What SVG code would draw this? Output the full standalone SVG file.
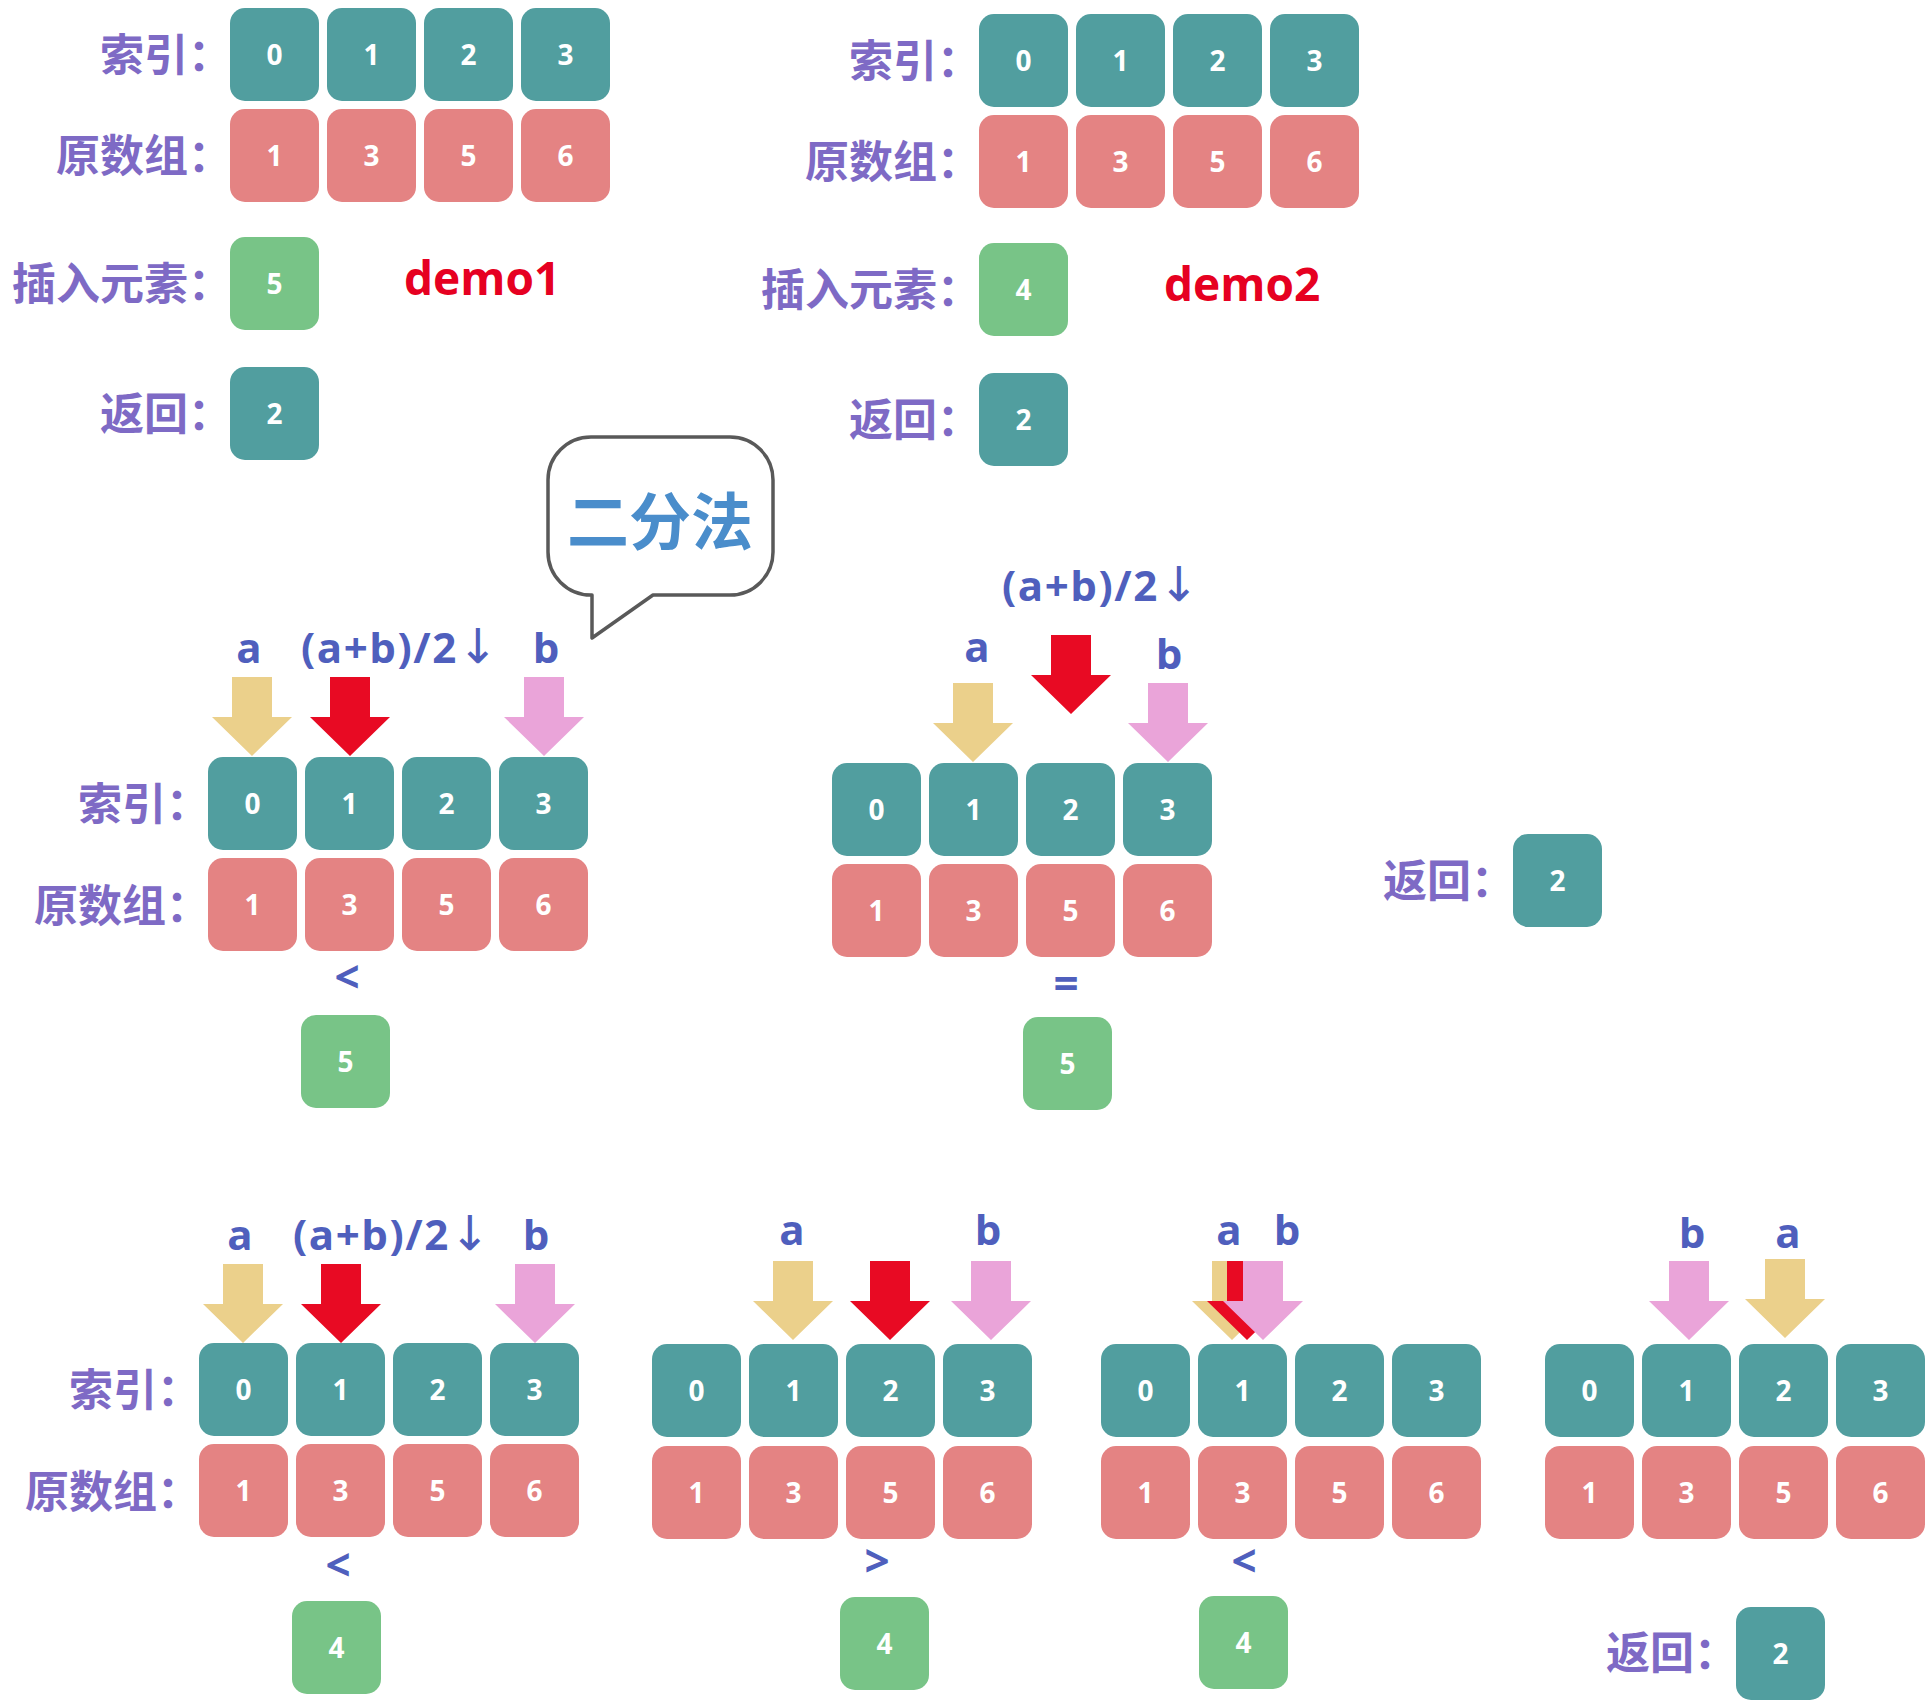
<svg xmlns="http://www.w3.org/2000/svg" xmlns:xlink="http://www.w3.org/1999/xlink" width="1930" height="1703" viewBox="0 0 1930 1703">
<defs>
<style>
.ix{fill:#519E9F}.pk{fill:#E48383}.gr{fill:#78C487}
.num{font-family:"Open Sans","Noto Sans",sans-serif;font-weight:700;font-size:28px;fill:#fff;text-anchor:middle}
.lbl{font-family:"Noto Sans CJK SC","Noto Sans",sans-serif;font-weight:700;font-size:44px;fill:#7E6AC5;text-anchor:end}
.ab{font-family:"Open Sans","Noto Sans",sans-serif;font-weight:700;font-size:42px;fill:#4F5FBD}
.mid{text-anchor:middle}
.thin{font-family:"DejaVu Sans",sans-serif;font-weight:400;font-size:48px}
.cmp{font-family:"Open Sans","Noto Sans",sans-serif;font-weight:700;font-size:44px;fill:#4F5FBD;text-anchor:middle}
.demo{font-family:"Open Sans","Noto Sans",sans-serif;font-weight:700;font-size:46px;fill:#E60021}
.ay{fill:#EBD08B}.ar{fill:#E80A23}.ap{fill:#EAA4D9}
</style>
<rect id="bx" width="89" height="93" rx="15"/>
<path id="arr" d="M-20,-79 H20 V-39 H40 L0,0 L-40,-39 H-20 Z"/>
</defs>
<rect width="1930" height="1703" fill="#fff"/>

<!-- Top-left demo1 -->
<g id="demo1">
<text class="lbl" x="232" y="71">索引：</text>
<text class="lbl" x="232" y="172">原数组：</text>
<text class="lbl" x="232" y="300">插入元素：</text>
<text class="lbl" x="232" y="430">返回：</text>
<g id="d1-i0" transform="translate(230,8)"><use href="#bx" class="ix"/><text class="num" x="44.5" y="57">0</text></g>
<g id="d1-i1" transform="translate(327,8)"><use href="#bx" class="ix"/><text class="num" x="44.5" y="57">1</text></g>
<g id="d1-i2" transform="translate(424,8)"><use href="#bx" class="ix"/><text class="num" x="44.5" y="57">2</text></g>
<g id="d1-i3" transform="translate(521,8)"><use href="#bx" class="ix"/><text class="num" x="44.5" y="57">3</text></g>
<g id="d1-v0" transform="translate(230,109)"><use href="#bx" class="pk"/><text class="num" x="44.5" y="57">1</text></g>
<g id="d1-v1" transform="translate(327,109)"><use href="#bx" class="pk"/><text class="num" x="44.5" y="57">3</text></g>
<g id="d1-v2" transform="translate(424,109)"><use href="#bx" class="pk"/><text class="num" x="44.5" y="57">5</text></g>
<g id="d1-v3" transform="translate(521,109)"><use href="#bx" class="pk"/><text class="num" x="44.5" y="57">6</text></g>
<g id="d1-ins" transform="translate(230,237)"><use href="#bx" class="gr"/><text class="num" x="44.5" y="57">5</text></g>
<g id="d1-ret" transform="translate(230,367)"><use href="#bx" class="ix"/><text class="num" x="44.5" y="57">2</text></g>
<text class="demo" x="404" y="295">demo1</text>
</g>

<!-- Top-right demo2 -->
<g id="demo2">
<text class="lbl" x="981" y="77">索引：</text>
<text class="lbl" x="981" y="178">原数组：</text>
<text class="lbl" x="981" y="306">插入元素：</text>
<text class="lbl" x="981" y="436">返回：</text>
<g id="d2-i0" transform="translate(979,14)"><use href="#bx" class="ix"/><text class="num" x="44.5" y="57">0</text></g>
<g id="d2-i1" transform="translate(1076,14)"><use href="#bx" class="ix"/><text class="num" x="44.5" y="57">1</text></g>
<g id="d2-i2" transform="translate(1173,14)"><use href="#bx" class="ix"/><text class="num" x="44.5" y="57">2</text></g>
<g id="d2-i3" transform="translate(1270,14)"><use href="#bx" class="ix"/><text class="num" x="44.5" y="57">3</text></g>
<g id="d2-v0" transform="translate(979,115)"><use href="#bx" class="pk"/><text class="num" x="44.5" y="57">1</text></g>
<g id="d2-v1" transform="translate(1076,115)"><use href="#bx" class="pk"/><text class="num" x="44.5" y="57">3</text></g>
<g id="d2-v2" transform="translate(1173,115)"><use href="#bx" class="pk"/><text class="num" x="44.5" y="57">5</text></g>
<g id="d2-v3" transform="translate(1270,115)"><use href="#bx" class="pk"/><text class="num" x="44.5" y="57">6</text></g>
<g id="d2-ins" transform="translate(979,243)"><use href="#bx" class="gr"/><text class="num" x="44.5" y="57">4</text></g>
<g id="d2-ret" transform="translate(979,373)"><use href="#bx" class="ix"/><text class="num" x="44.5" y="57">2</text></g>
<text class="demo" x="1164" y="301">demo2</text>
</g>

<!-- Speech bubble -->
<g id="bubble">
<path d="M591,437 H730 A43,43 0 0 1 773,480 V552 A43,43 0 0 1 730,595 H653 L592,638 V595 H591 A43,43 0 0 1 548,552 V480 A43,43 0 0 1 591,437 Z" fill="#fff" stroke="#595959" stroke-width="3.5" stroke-linejoin="round"/>
<text x="660" y="545" text-anchor="middle" font-family="Noto Sans CJK SC, sans-serif" font-weight="700" font-size="62" fill="#4A8DCB">二分法</text>
</g>

<!-- Middle-left step -->
<g id="s1">
<text class="lbl" x="210" y="820">索引：</text>
<text class="lbl" x="210" y="922">原数组：</text>
<g id="s1-i0" transform="translate(208,757)"><use href="#bx" class="ix"/><text class="num" x="44.5" y="57">0</text></g>
<g id="s1-i1" transform="translate(305,757)"><use href="#bx" class="ix"/><text class="num" x="44.5" y="57">1</text></g>
<g id="s1-i2" transform="translate(402,757)"><use href="#bx" class="ix"/><text class="num" x="44.5" y="57">2</text></g>
<g id="s1-i3" transform="translate(499,757)"><use href="#bx" class="ix"/><text class="num" x="44.5" y="57">3</text></g>
<g id="s1-v0" transform="translate(208,858)"><use href="#bx" class="pk"/><text class="num" x="44.5" y="57">1</text></g>
<g id="s1-v1" transform="translate(305,858)"><use href="#bx" class="pk"/><text class="num" x="44.5" y="57">3</text></g>
<g id="s1-v2" transform="translate(402,858)"><use href="#bx" class="pk"/><text class="num" x="44.5" y="57">5</text></g>
<g id="s1-v3" transform="translate(499,858)"><use href="#bx" class="pk"/><text class="num" x="44.5" y="57">6</text></g>
<text class="ab mid" x="249" y="663">a</text>
<text class="ab" x="301" y="663" textLength="197" lengthAdjust="spacing">(a+b)/2<tspan class="thin">↓</tspan></text>
<text class="ab mid" x="546" y="663">b</text>
<text class="cmp" x="347" y="993">&lt;</text>
<g id="s1-ins" transform="translate(301,1015)"><use href="#bx" class="gr"/><text class="num" x="44.5" y="57">5</text></g>
</g>

<!-- Middle-right step -->
<g id="s2">
<g id="s2-i0" transform="translate(832,763)"><use href="#bx" class="ix"/><text class="num" x="44.5" y="57">0</text></g>
<g id="s2-i1" transform="translate(929,763)"><use href="#bx" class="ix"/><text class="num" x="44.5" y="57">1</text></g>
<g id="s2-i2" transform="translate(1026,763)"><use href="#bx" class="ix"/><text class="num" x="44.5" y="57">2</text></g>
<g id="s2-i3" transform="translate(1123,763)"><use href="#bx" class="ix"/><text class="num" x="44.5" y="57">3</text></g>
<g id="s2-v0" transform="translate(832,864)"><use href="#bx" class="pk"/><text class="num" x="44.5" y="57">1</text></g>
<g id="s2-v1" transform="translate(929,864)"><use href="#bx" class="pk"/><text class="num" x="44.5" y="57">3</text></g>
<g id="s2-v2" transform="translate(1026,864)"><use href="#bx" class="pk"/><text class="num" x="44.5" y="57">5</text></g>
<g id="s2-v3" transform="translate(1123,864)"><use href="#bx" class="pk"/><text class="num" x="44.5" y="57">6</text></g>
<text class="ab" x="1002" y="601" textLength="197" lengthAdjust="spacing">(a+b)/2<tspan class="thin">↓</tspan></text>
<text class="ab mid" x="977" y="662">a</text>
<text class="ab mid" x="1169" y="669">b</text>
<text class="cmp" x="1066" y="999">=</text>
<g id="s2-ins" transform="translate(1023,1017)"><use href="#bx" class="gr"/><text class="num" x="44.5" y="57">5</text></g>
<text class="lbl" x="1515" y="897">返回：</text>
<g id="s2-ret" transform="translate(1513,834)"><use href="#bx" class="ix"/><text class="num" x="44.5" y="57">2</text></g>
</g>

<!-- Bottom step 1 -->
<g id="b1">
<text class="lbl" x="201" y="1406">索引：</text>
<text class="lbl" x="201" y="1508">原数组：</text>
<g id="b1-i0" transform="translate(199,1343)"><use href="#bx" class="ix"/><text class="num" x="44.5" y="57">0</text></g>
<g id="b1-i1" transform="translate(296,1343)"><use href="#bx" class="ix"/><text class="num" x="44.5" y="57">1</text></g>
<g id="b1-i2" transform="translate(393,1343)"><use href="#bx" class="ix"/><text class="num" x="44.5" y="57">2</text></g>
<g id="b1-i3" transform="translate(490,1343)"><use href="#bx" class="ix"/><text class="num" x="44.5" y="57">3</text></g>
<g id="b1-v0" transform="translate(199,1444)"><use href="#bx" class="pk"/><text class="num" x="44.5" y="57">1</text></g>
<g id="b1-v1" transform="translate(296,1444)"><use href="#bx" class="pk"/><text class="num" x="44.5" y="57">3</text></g>
<g id="b1-v2" transform="translate(393,1444)"><use href="#bx" class="pk"/><text class="num" x="44.5" y="57">5</text></g>
<g id="b1-v3" transform="translate(490,1444)"><use href="#bx" class="pk"/><text class="num" x="44.5" y="57">6</text></g>
<text class="ab mid" x="240" y="1250">a</text>
<text class="ab" x="293" y="1250" textLength="197" lengthAdjust="spacing">(a+b)/2<tspan class="thin">↓</tspan></text>
<text class="ab mid" x="536" y="1250">b</text>
<text class="cmp" x="338" y="1581">&lt;</text>
<g id="b1-ins" transform="translate(292,1601)"><use href="#bx" class="gr"/><text class="num" x="44.5" y="57">4</text></g>
</g>

<!-- Bottom step 2 -->
<g id="b2">
<g id="b2-i0" transform="translate(652,1344)"><use href="#bx" class="ix"/><text class="num" x="44.5" y="57">0</text></g>
<g id="b2-i1" transform="translate(749,1344)"><use href="#bx" class="ix"/><text class="num" x="44.5" y="57">1</text></g>
<g id="b2-i2" transform="translate(846,1344)"><use href="#bx" class="ix"/><text class="num" x="44.5" y="57">2</text></g>
<g id="b2-i3" transform="translate(943,1344)"><use href="#bx" class="ix"/><text class="num" x="44.5" y="57">3</text></g>
<g id="b2-v0" transform="translate(652,1446)"><use href="#bx" class="pk"/><text class="num" x="44.5" y="57">1</text></g>
<g id="b2-v1" transform="translate(749,1446)"><use href="#bx" class="pk"/><text class="num" x="44.5" y="57">3</text></g>
<g id="b2-v2" transform="translate(846,1446)"><use href="#bx" class="pk"/><text class="num" x="44.5" y="57">5</text></g>
<g id="b2-v3" transform="translate(943,1446)"><use href="#bx" class="pk"/><text class="num" x="44.5" y="57">6</text></g>
<text class="ab mid" x="792" y="1245">a</text>
<text class="ab mid" x="988" y="1245">b</text>
<text class="cmp" x="877" y="1577">&gt;</text>
<g id="b2-ins" transform="translate(840,1597)"><use href="#bx" class="gr"/><text class="num" x="44.5" y="57">4</text></g>
</g>

<!-- Bottom step 3 -->
<g id="b3">
<g id="b3-i0" transform="translate(1101,1344)"><use href="#bx" class="ix"/><text class="num" x="44.5" y="57">0</text></g>
<g id="b3-i1" transform="translate(1198,1344)"><use href="#bx" class="ix"/><text class="num" x="44.5" y="57">1</text></g>
<g id="b3-i2" transform="translate(1295,1344)"><use href="#bx" class="ix"/><text class="num" x="44.5" y="57">2</text></g>
<g id="b3-i3" transform="translate(1392,1344)"><use href="#bx" class="ix"/><text class="num" x="44.5" y="57">3</text></g>
<g id="b3-v0" transform="translate(1101,1446)"><use href="#bx" class="pk"/><text class="num" x="44.5" y="57">1</text></g>
<g id="b3-v1" transform="translate(1198,1446)"><use href="#bx" class="pk"/><text class="num" x="44.5" y="57">3</text></g>
<g id="b3-v2" transform="translate(1295,1446)"><use href="#bx" class="pk"/><text class="num" x="44.5" y="57">5</text></g>
<g id="b3-v3" transform="translate(1392,1446)"><use href="#bx" class="pk"/><text class="num" x="44.5" y="57">6</text></g>
<text class="ab mid" x="1229" y="1245">a</text>
<text class="ab mid" x="1287" y="1245">b</text>
<text class="cmp" x="1244" y="1577">&lt;</text>
<g id="b3-ins" transform="translate(1199,1596)"><use href="#bx" class="gr"/><text class="num" x="44.5" y="57">4</text></g>
</g>

<!-- Bottom step 4 -->
<g id="b4">
<g id="b4-i0" transform="translate(1545,1344)"><use href="#bx" class="ix"/><text class="num" x="44.5" y="57">0</text></g>
<g id="b4-i1" transform="translate(1642,1344)"><use href="#bx" class="ix"/><text class="num" x="44.5" y="57">1</text></g>
<g id="b4-i2" transform="translate(1739,1344)"><use href="#bx" class="ix"/><text class="num" x="44.5" y="57">2</text></g>
<g id="b4-i3" transform="translate(1836,1344)"><use href="#bx" class="ix"/><text class="num" x="44.5" y="57">3</text></g>
<g id="b4-v0" transform="translate(1545,1446)"><use href="#bx" class="pk"/><text class="num" x="44.5" y="57">1</text></g>
<g id="b4-v1" transform="translate(1642,1446)"><use href="#bx" class="pk"/><text class="num" x="44.5" y="57">3</text></g>
<g id="b4-v2" transform="translate(1739,1446)"><use href="#bx" class="pk"/><text class="num" x="44.5" y="57">5</text></g>
<g id="b4-v3" transform="translate(1836,1446)"><use href="#bx" class="pk"/><text class="num" x="44.5" y="57">6</text></g>
<text class="ab mid" x="1692" y="1248">b</text>
<text class="ab mid" x="1788" y="1248">a</text>
<text class="lbl" x="1738" y="1669">返回：</text>
<g id="b4-ret" transform="translate(1736,1607)"><use href="#bx" class="ix"/><text class="num" x="44.5" y="57">2</text></g>
</g>

<!-- Pointer arrows -->
<g id="connectors">
<use href="#arr" class="ay" x="252" y="756"/>
<use href="#arr" class="ar" x="350" y="756"/>
<use href="#arr" class="ap" x="544" y="756"/>

<use href="#arr" class="ay" x="973" y="762"/>
<use href="#arr" class="ar" x="1071" y="714"/>
<use href="#arr" class="ap" x="1168" y="762"/>

<use href="#arr" class="ay" x="243" y="1343"/>
<use href="#arr" class="ar" x="341" y="1343"/>
<use href="#arr" class="ap" x="535" y="1343"/>

<use href="#arr" class="ay" x="793" y="1340"/>
<use href="#arr" class="ar" x="890" y="1340"/>
<use href="#arr" class="ap" x="991" y="1340"/>

<use href="#arr" class="ay" x="1232" y="1340"/>
<use href="#arr" class="ar" x="1247" y="1340"/>
<use href="#arr" class="ap" x="1263" y="1340"/>

<use href="#arr" class="ap" x="1689" y="1340"/>
<use href="#arr" class="ay" x="1785" y="1338"/>
</g>
</svg>
